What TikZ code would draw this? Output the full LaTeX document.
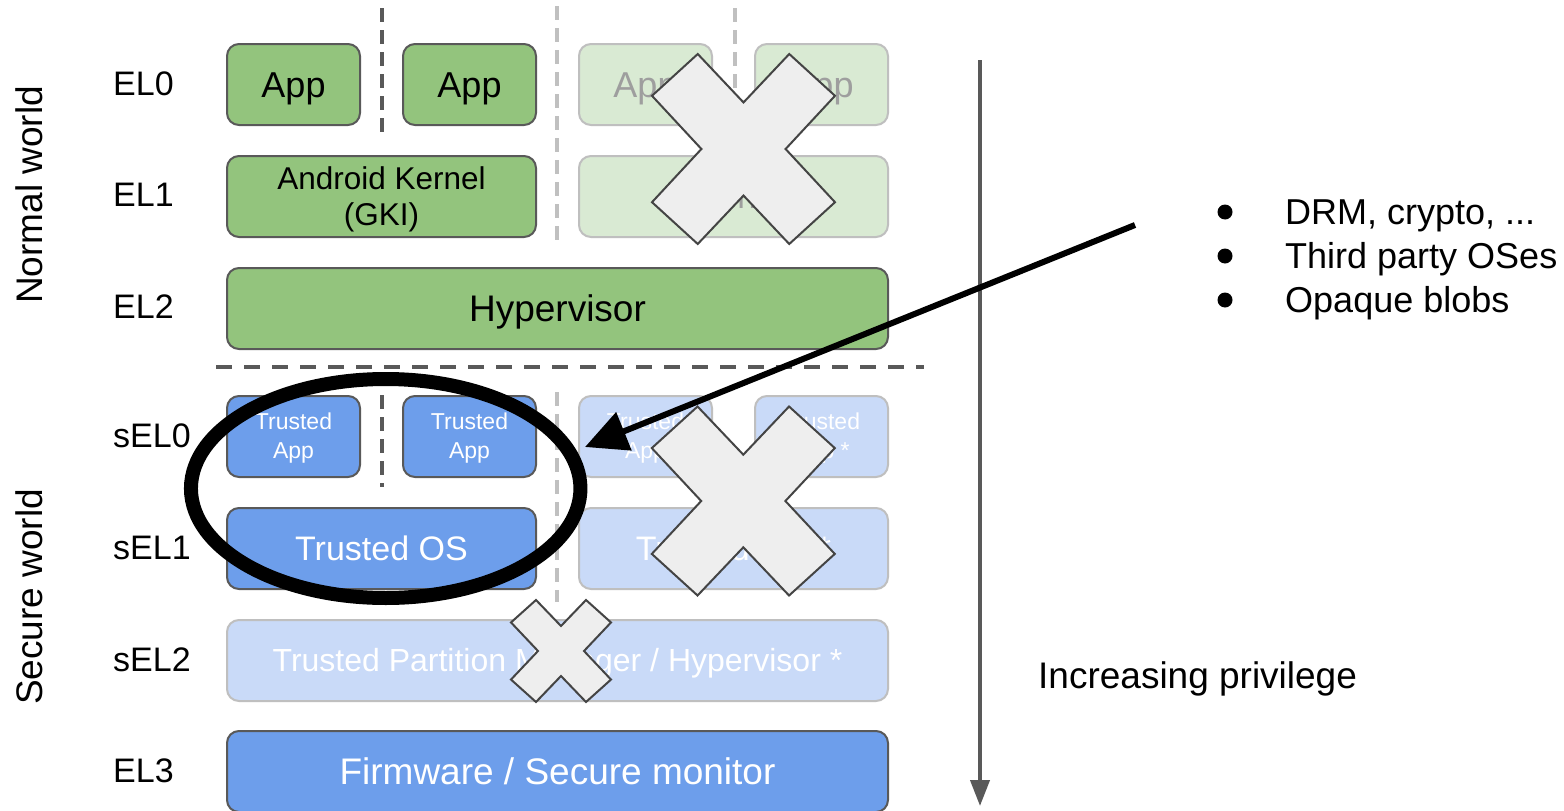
\documentclass[tikz,border=0pt]{standalone}
\usepackage{fontspec}
\setmainfont{Liberation Sans}
\usetikzlibrary{arrows.meta,shapes.geometric}
\definecolor{gfill}{HTML}{93C47D}
\definecolor{gfade}{HTML}{D9EAD3}
\definecolor{bfill}{HTML}{6D9EEB}
\definecolor{bfade}{HTML}{C9DAF8}
\definecolor{edgec}{HTML}{595959}
\definecolor{fedge}{HTML}{BFBFBF}
\definecolor{xfill}{HTML}{EEEEEE}
\definecolor{xedge}{HTML}{444444}
\definecolor{ftext}{HTML}{9E9E9E}
\definecolor{dlight}{HTML}{C0C0C0}
\tikzset{
  boxbase/.style={rounded corners=12pt, line width=2pt, inner sep=0pt, minimum height=81pt},
  gbx/.style={boxbase, draw=edgec, fill=gfill},
  gfd/.style={boxbase, draw=fedge, fill=gfade},
  bbx/.style={boxbase, draw=edgec, fill=bfill},
  bfd/.style={boxbase, draw=fedge, fill=bfade},
  nw/.style={minimum width=133pt},
  ww/.style={minimum width=309pt},
  fw/.style={minimum width=661pt},
  t37/.style={font=\fontsize{37}{44}\selectfont, text height=26.5pt, text depth=0pt, inner sep=0pt},
  t36/.style={font=\fontsize{36}{43}\selectfont, text height=25.8pt, text depth=0pt, inner sep=0pt},
  t34/.style={font=\fontsize{34}{41}\selectfont, text height=24.3pt, text depth=0pt, inner sep=0pt},
  t32/.style={font=\fontsize{32}{38}\selectfont, text height=22.9pt, text depth=0pt, inner sep=0pt},
  t31/.style={font=\fontsize{31.5}{37}\selectfont, text height=22.5pt, text depth=0pt, inner sep=0pt},
  t23/.style={font=\fontsize{23}{28}\selectfont, text height=16.5pt, text depth=0pt, inner sep=0pt},
  darkdash/.style={draw=edgec, line width=4pt, dash pattern=on 14pt off 8pt},
  lightdash/.style={draw=dlight, line width=4pt, dash pattern=on 14pt off 8pt},
  xmk/.style={draw=xedge, fill=xfill, line width=2pt, line join=miter},
  xcross/.pic={
    \path[xmk] (0,-0.49) -- (-0.5,-1) -- (-1,-0.56) -- (-0.46,0) -- (-1,0.56) -- (-0.5,1)
      -- (0,0.49) -- (0.5,1) -- (1,0.56) -- (0.46,0) -- (1,-0.56) -- (0.5,-1) -- cycle;
  },
}
\begin{document}
\begin{tikzpicture}[x=1pt,y=-1pt]
\useasboundingbox (0,0) rectangle (1564,811);
\fill[white] (0,0) rectangle (1564,811);

% separators
\draw[darkdash] (382,8) -- (382,133);
\draw[darkdash] (382,395) -- (382,487);
\draw[lightdash] (557,6) -- (557,246);
\draw[lightdash] (557,392) -- (557,602);
\draw[lightdash] (735,8) -- (735,140);
\draw[draw=edgec, line width=4pt, dash pattern=on 16pt off 12pt] (216,367) -- (924,367);

% world and level labels
\node[t37, rotate=90] (nworld) at (29,195) {Normal world};
\node[t37, rotate=90] (sworld) at (29,597) {Secure world};
\node[t34, anchor=west] (l0) at (113,83) {EL0};
\node[t34, anchor=west] (l1) at (113,194) {EL1};
\node[t34, anchor=west] (l2) at (113,306) {EL2};
\node[t34, anchor=west] (l3) at (113,435) {sEL0};
\node[t34, anchor=west] (l4) at (113,547) {sEL1};
\node[t34, anchor=west] (l5) at (113,659) {sEL2};
\node[t34, anchor=west] (l6) at (113,770) {EL3};

% normal world
\node[gbx, nw, t36] (app1) at (293.5,84.5) {App};
\node[gbx, nw, t36] (app2) at (469.5,84.5) {App};
\node[gfd, nw, t36, text=ftext] (app3) at (645.5,84.5) {App};
\node[gfd, nw, t36, text=ftext] (app4) at (821.5,84.5) {App};
\node[gbx, ww] (ak) at (381.5,196.5) {};
\node[t31] (akt1) at (381.5,178.5) {Android Kernel};
\node[t31] (akt2) at (381.5,214.5) {(GKI)};
\node[gfd, ww, t34, text=ftext] (fk) at (733.5,196.5) {Kernel};
\node[gbx, fw, t37] (hyp) at (557.5,308.5) {Hypervisor};

% secure world
\node[bbx, nw] (ta1) at (293.5,436.5) {};
\node[t23, text=white] (ta1a) at (293.5,421.5) {Trusted};
\node[t23, text=white] (ta1b) at (293.5,450.5) {App};
\node[bbx, nw] (ta2) at (469.5,436.5) {};
\node[t23, text=white] (ta2a) at (469.5,421.5) {Trusted};
\node[t23, text=white] (ta2b) at (469.5,450.5) {App};
\node[bfd, nw] (ta3) at (645.5,436.5) {};
\node[t23, text=white] (ta3a) at (645.5,421.5) {Trusted};
\node[t23, text=white] (ta3b) at (645.5,450.5) {App};
\node[bfd, nw] (ta4) at (821.5,436.5) {};
\node[t23, text=white] (ta4a) at (821.5,421.5) {Trusted};
\node[t23, text=white] (ta4b) at (821.5,450.5) {App *};
\node[bbx, ww, t34, text=white] (tos) at (381.5,548.5) {Trusted OS};
\node[bfd, ww, t34, text=white] (ftos) at (733.5,548.5) {Trusted OS *};
\node[bfd, fw, t32, text=white] (tpm) at (557.5,660.5) {Trusted Partition Manager / Hypervisor *};
\node[bbx, fw, t37, text=white] (fw) at (557.5,771.5) {Firmware / Secure monitor};

% privilege arrow
\coordinate (ptop) at (980,60);
\coordinate (pbot) at (980,806);
\draw[draw=edgec, line width=4pt, -{Triangle[length=26pt,width=19pt]}] (ptop) -- (pbot);
\node[t37, anchor=west] (incr) at (1038,675) {Increasing privilege};

% bullets
\fill[black] (1225,212) circle[radius=7.5];
\fill[black] (1225,256) circle[radius=7.5];
\fill[black] (1225,300) circle[radius=7.5];
\node[t36, anchor=west] (b1) at (1285,212) {DRM, crypto, ...};
\node[t36, anchor=west] (b2) at (1285,256) {Third party OSes};
\node[t36, anchor=west] (b3) at (1285,300) {Opaque blobs};

% ring and pointer
\node[draw=black, line width=14pt, ellipse, minimum width=389.5pt, minimum height=219pt, inner sep=0pt] (ring) at (385.7,488.5) {};
\coordinate (src) at (1135,225);
\coordinate (tip) at (585,447);
\draw[black, line width=6pt, -{Triangle[length=42pt,width=40pt]}] (src) -- (tip);

% crosses
\pic[xscale=91.5, yscale=95] at (743.5,149) {xcross};
\pic[xscale=91.5, yscale=94.5] at (743.3,501) {xcross};
\pic[xscale=50, yscale=51] at (561,651) {xcross};
\end{tikzpicture}
\end{document}
